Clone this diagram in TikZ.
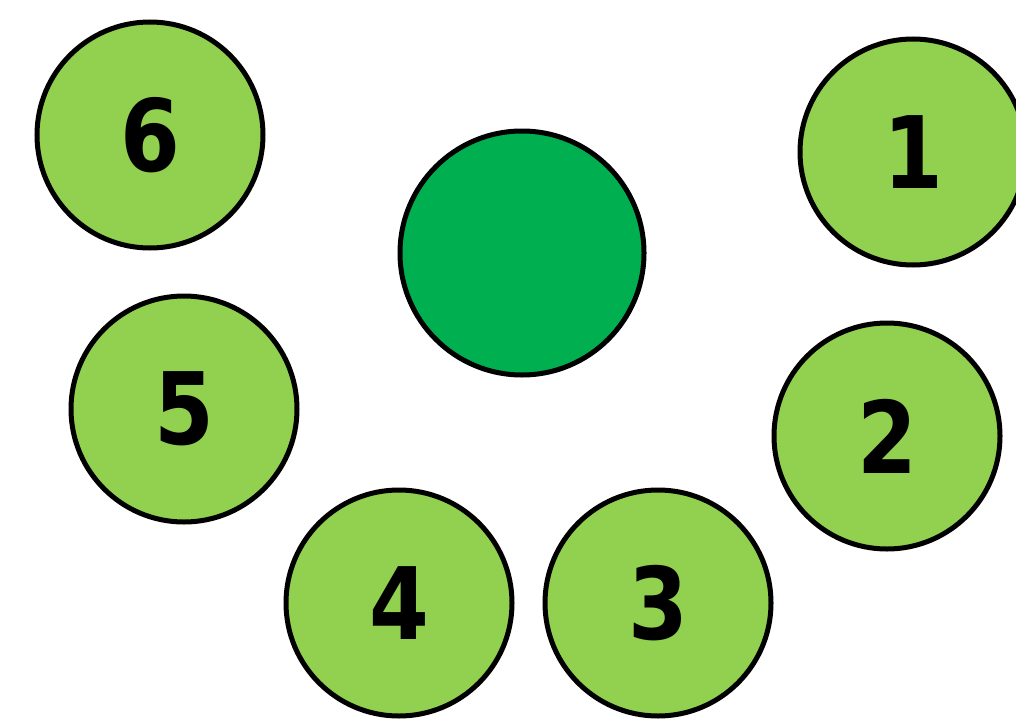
\documentclass[tikz,border=0pt]{standalone}
\usepackage{fontspec}
\newfontfamily\digitfont{DejaVu Sans Bold}[FakeStretch=0.86]
\definecolor{lightg}{HTML}{92D050}
\definecolor{darkg}{HTML}{00B050}
\tikzset{
  ball/.style={circle, draw=black, line width=5pt, fill=lightg, minimum size=226pt, inner sep=0pt,
    font=\digitfont\fontsize{100}{100}\selectfont, text=black},
  hub/.style={circle, draw=black, line width=5pt, fill=darkg, minimum size=244pt, inner sep=0pt}
}
\begin{document}
\begin{tikzpicture}[x=1pt,y=-1pt]
\useasboundingbox (0,0) rectangle (1016,725);
\clip (0,0) rectangle (1016,725);
\node[hub] (c) at (522,253) {};
\node[ball] (n1) at (913,152) {1};
\node[ball] (n2) at (887,436) {2};
\node[ball] (n3) at (658,603) {3};
\node[ball] (n4) at (399,603) {4};
\node[ball] (n5) at (184,409) {5};
\node[ball] (n6) at (150,135) {6};
\end{tikzpicture}
\end{document}
